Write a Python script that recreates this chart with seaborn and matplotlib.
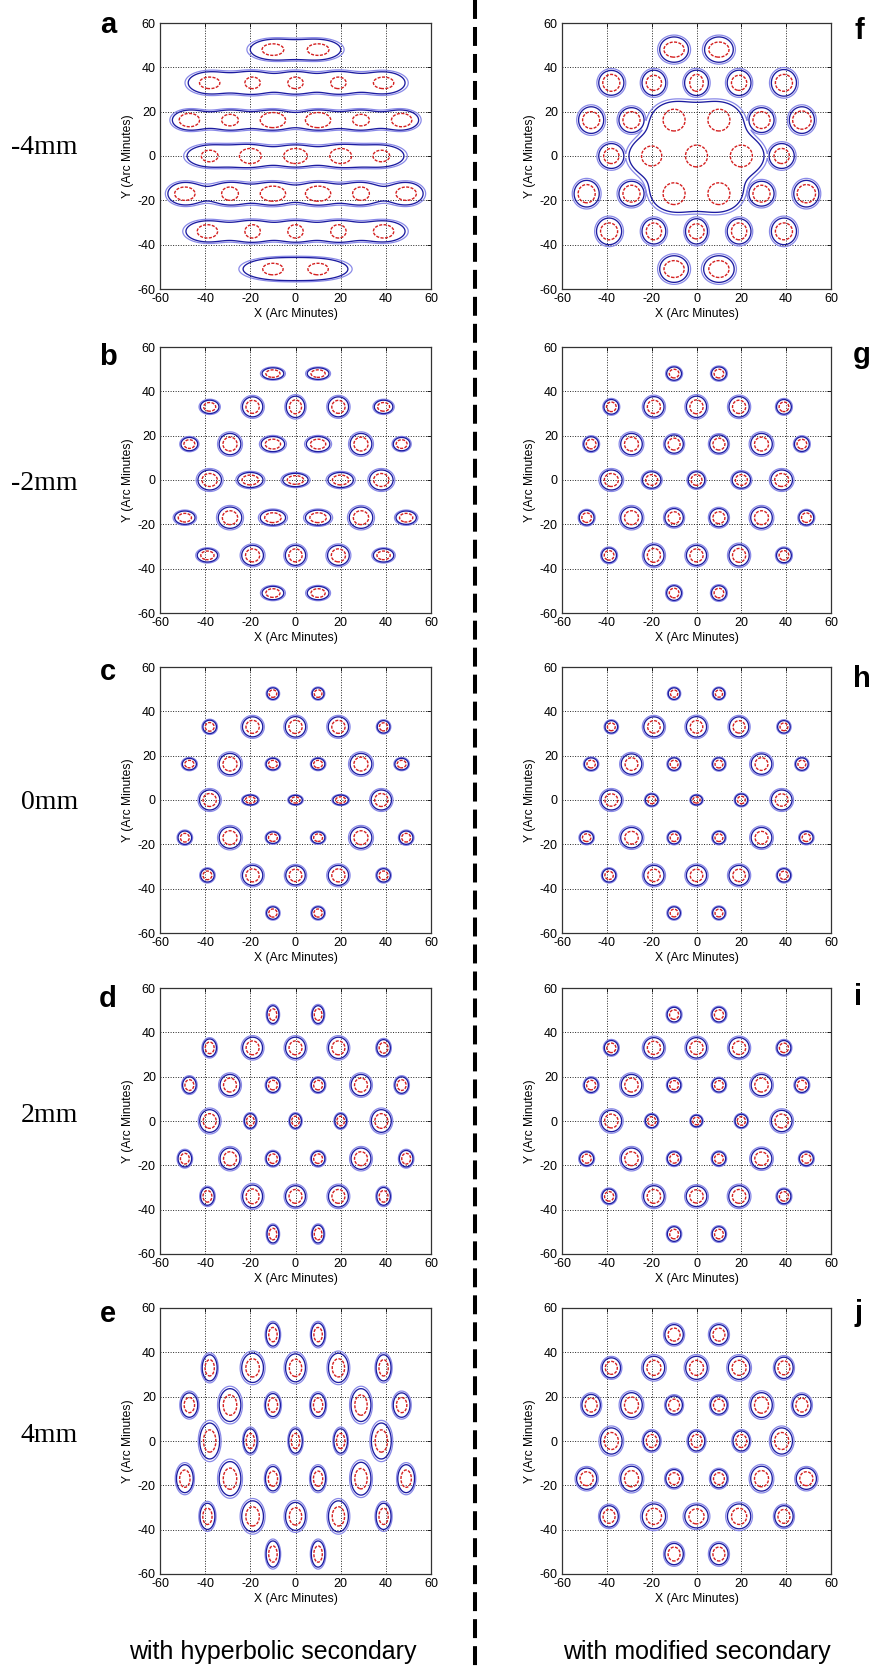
import numpy as np
import matplotlib
matplotlib.use("Agg")
import matplotlib.pyplot as plt
import seaborn as sns
from matplotlib.lines import Line2D

sns.set_theme(style="white")
plt.rcParams["font.family"] = ["Liberation Sans", "DejaVu Sans"]
plt.rcParams["axes.unicode_minus"] = False

# ---------------- spot centres (arc minutes), row by row ----------------
SPOT_X = [-10, 10,
          -38, -19, 0, 19, 39,
          -47, -29, -10, 10, 29, 47,
          -38, -20, 0, 20, 38,
          -49, -29, -10, 10, 29, 49,
          -39, -19, 0, 19, 39,
          -10, 10]
SPOT_Y = [48, 48,
          33, 33, 33, 33, 33,
          16.2, 16.2, 16.2, 16.2, 16.2, 16.2,
          0, 0, 0, 0, 0,
          -17, -17, -17, -17, -17, -17,
          -34, -34, -34, -34, -34,
          -51, -51]
SPOT_ROW = [0, 0, 1, 1, 1, 1, 1, 2, 2, 2, 2, 2, 2, 3, 3, 3, 3, 3,
            4, 4, 4, 4, 4, 4, 5, 5, 5, 5, 5, 6, 6]

TICKS = [-60, -40, -20, 0, 20, 40, 60]
ROW_LABELS = ["-4mm", "-2mm", "0mm", "2mm", "4mm"]
LEFT_LETTERS = ["a", "b", "c", "d", "e"]
RIGHT_LETTERS = ["f", "g", "h", "i", "j"]
COLUMN_TITLES = ["with hyperbolic secondary", "with modified secondary"]


def flat(rows):
    out = []
    for r in rows:
        out.extend(r if len(r) > 1 else [r[0], r[0]])
    return out


# ---------------- panel a (-4 mm, hyperbolic): blue bands per row, red spots ----------------
A_BX = flat([[10], [9.5, 8.5, 8.5, 8.5, 9.5], [7.5, 8.5, 8.5, 8.5, 8.5, 7.5],
             [10, 9, 9, 9, 10], [7.5, 8.5, 8.5, 8.5, 8.5, 7.5],
             [9.5, 8.5, 8.5, 8.5, 9.5], [13]])
A_BY = flat([[4.5], [4.9] * 5, [4.4] * 6, [4.8] * 5, [5.0] * 6, [4.7] * 5, [4.4]])
A_RX = flat([[4.8], [4.5, 3.4, 3.4, 3.4, 4.5], [4.5, 3.7, 5.6, 5.6, 3.7, 4.5],
             [3.7, 4.8, 5.2, 4.8, 3.7], [4.5, 3.7, 5.6, 5.6, 3.7, 4.5],
             [4.5, 3.4, 3.4, 3.4, 4.5], [4.5]])
A_RY = flat([[2.6], [2.6] * 5, [3.0, 2.6, 3.4, 3.4, 2.6, 3.0], [2.6, 3.4, 3.4, 3.4, 2.6],
             [3.0, 3.0, 3.4, 3.4, 3.0, 3.0], [3.0] * 5, [2.6]])
A_GROUP = SPOT_ROW  # each row of images merges into one band

# ---------------- panel b (-2 mm, hyperbolic) ----------------
B_BX = flat([[4.8], [4.1, 4.5, 4.1, 4.5, 4.1], [3.7, 4.8, 5.2, 5.2, 4.8, 3.7],
             [5.2, 5.6, 5.6, 5.6, 5.2], [4.5, 5.2, 5.6, 5.6, 5.2, 4.5],
             [4.5, 4.8, 4.5, 4.8, 4.5], [4.8]])
B_BY = flat([[2.6], [3.0, 4.5, 4.8, 4.5, 3.0], [3.0, 4.8, 3.4, 3.4, 4.8, 3.0],
             [4.5, 3.4, 3.0, 3.4, 4.5], [3.0, 4.8, 3.4, 3.4, 4.8, 3.0],
             [3.0, 4.5, 4.5, 4.5, 3.0], [3.0]])

# ---------------- panel c (0 mm, hyperbolic) ----------------
C_BX = flat([[2.6], [3.0, 4.5, 4.5, 4.5, 2.8], [3.1, 4.8, 3.0, 3.0, 4.8, 3.0],
             [4.5, 3.4, 3.0, 3.4, 4.5], [3.0, 4.8, 3.0, 3.0, 4.8, 3.0],
             [3.0, 4.5, 4.3, 4.5, 3.0], [2.8]])
C_BY = flat([[2.6], [3.0, 4.5, 4.6, 4.5, 2.8], [2.6, 4.8, 2.6, 2.6, 4.8, 2.6],
             [4.5, 2.2, 2.1, 2.2, 4.5], [3.0, 4.8, 2.6, 2.6, 4.8, 3.0],
             [3.0, 4.5, 4.3, 4.5, 3.0], [2.8]])

# ---------------- panel d (2 mm, hyperbolic) ----------------
D_BX = flat([[2.6], [3.0, 4.4, 4.4, 4.4, 3.0], [3.0, 4.4, 3.0, 3.0, 4.4, 3.0],
             [4.4, 2.6, 2.6, 2.6, 4.4], [3.0, 4.4, 3.0, 3.0, 4.4, 3.0],
             [3.0, 4.4, 4.4, 4.4, 3.0], [2.6]])
D_BY = flat([[4.0], [4.0, 4.8, 4.8, 4.8, 3.7], [3.7, 4.8, 3.3, 3.3, 4.8, 3.7],
             [5.1, 3.3, 3.3, 3.3, 5.1], [3.7, 4.8, 3.3, 3.3, 4.8, 3.7],
             [4.0, 5.1, 4.8, 4.8, 4.0], [4.0]])

# ---------------- panel e (4 mm, hyperbolic) ----------------
E_BX = flat([[3.0], [3.3, 4.8, 4.4, 4.4, 3.3], [3.7, 4.8, 3.3, 3.3, 4.4, 3.7],
             [4.4, 3.0, 3.0, 3.0, 4.4], [3.7, 4.8, 3.3, 3.3, 4.4, 3.7],
             [3.3, 4.8, 4.4, 4.4, 3.3], [3.0]])
E_BY = flat([[5.2], [5.9, 6.6, 6.3, 6.6, 5.9], [5.5, 7.4, 5.2, 5.2, 7.4, 5.5],
             [8.1, 5.5, 5.5, 5.5, 8.1], [6.3, 7.7, 5.5, 5.5, 7.4, 6.3],
             [5.9, 7.0, 6.3, 7.0, 5.9], [5.9]])

# ---------------- panel f (-4 mm, modified): merged centre, red spots ----------------
F_BX = flat([[6.4], [5.6, 5.3, 5.3, 5.3, 5.6], [5.6, 5.6, 10, 10, 5.6, 5.6],
             [5.6, 10, 10, 10, 5.6], [5.6, 5.6, 10, 10, 5.6, 5.6],
             [5.6, 5.3, 4.9, 5.3, 5.6], [6.4, 6.8]])
F_BY = flat([[5.7], [5.6, 5.7, 5.7, 5.7, 6.0], [6.0, 5.6, 8, 8, 5.6, 6.0],
             [5.6, 8, 8, 8, 5.6], [6.0, 5.6, 8, 8, 5.6, 6.0],
             [6.0, 5.7, 5.7, 5.7, 6.0], [6.0]])
F_RX = flat([[4.5], [3.8, 3.4, 3.0, 3.4, 3.8], [3.8, 3.8, 4.9, 4.9, 3.8, 4.1],
             [3.4, 4.5, 4.9, 4.9, 3.4], [3.8, 3.8, 4.9, 4.9, 3.8, 4.1],
             [3.8, 3.4, 3.4, 3.4, 3.8], [4.5]])
F_RY = flat([[3.4], [3.8, 3.4, 3.8, 3.4, 3.8], [3.8, 3.8, 4.9, 4.9, 3.8, 4.1],
             [3.4, 4.5, 4.9, 4.9, 3.4], [4.1, 3.8, 4.9, 4.9, 3.8, 4.1],
             [3.8, 3.8, 3.4, 3.8, 3.8], [3.8]])
# the seven central images share one blue outline (group 99)
F_GROUP = [0, 1, 2, 3, 4, 5, 6, 7, 8, 99, 99, 11, 12, 13, 99, 99, 99, 17,
           18, 19, 99, 99, 22, 23, 24, 25, 26, 27, 28, 29, 30]

# ---------------- panel g (-2 mm, modified) ----------------
G_BX = flat([[3.3], [3.3, 4.5, 4.5, 4.5, 3.3], [3.3, 4.8, 4.1, 4.1, 4.8, 3.3],
             [4.8, 4.1, 3.7, 4.1, 4.8], [3.3, 4.8, 4.1, 4.1, 4.8, 3.3],
             [3.3, 4.5, 4.5, 4.5, 3.3], [3.3]])
G_BY = flat([[3.0], [3.3, 4.6, 4.8, 4.6, 3.3], [3.3, 4.8, 4.1, 4.1, 4.8, 3.3],
             [4.5, 3.7, 3.7, 3.7, 4.5], [3.3, 4.8, 4.1, 4.1, 4.8, 3.3],
             [3.3, 4.8, 4.5, 4.8, 3.3], [3.3]])

# ---------------- panel h (0 mm, modified) ----------------
H_BX = flat([[2.6], [2.8, 4.5, 4.5, 4.3, 2.8], [3.0, 4.6, 2.8, 2.8, 4.6, 2.8],
             [4.6, 2.8, 2.6, 2.8, 4.6], [3.0, 4.8, 2.8, 2.8, 4.6, 3.0],
             [3.0, 4.5, 4.5, 4.5, 3.0], [2.8]])
H_BY = flat([[2.6], [2.8, 4.5, 4.6, 4.5, 2.8], [2.8, 4.6, 2.8, 2.8, 4.6, 2.8],
             [4.5, 2.7, 2.2, 2.7, 4.5], [2.8, 4.6, 2.8, 2.8, 4.6, 2.8],
             [3.0, 4.5, 4.5, 4.5, 3.0], [2.8]])

# ---------------- panel i (2 mm, modified) ----------------
I_BX = flat([[3.1], [3.1, 4.5, 4.5, 4.5, 3.1], [3.1, 4.6, 3.0, 3.0, 4.6, 3.1],
             [4.6, 2.8, 2.6, 2.8, 4.6], [3.1, 4.6, 3.0, 3.0, 4.6, 3.1],
             [3.1, 4.6, 4.6, 4.6, 3.1], [3.0]])
I_BY = flat([[3.3], [3.3, 4.6, 4.6, 4.6, 3.3], [3.3, 4.8, 3.1, 3.1, 4.8, 3.3],
             [4.8, 3.0, 2.6, 3.0, 4.8], [3.1, 4.8, 3.1, 3.1, 4.6, 3.1],
             [3.3, 4.8, 4.6, 4.8, 3.3], [3.3]])

# ---------------- panel j (4 mm, modified) ----------------
J_BX = flat([[4.1], [4.1, 4.8, 4.8, 4.8, 4.1], [4.1, 4.8, 3.7, 3.7, 4.8, 4.1],
             [4.8, 3.7, 3.7, 3.7, 4.8], [4.5, 4.8, 3.7, 3.7, 4.8, 4.5],
             [4.1, 5.2, 5.2, 5.2, 4.1], [4.1]])
J_BY = flat([[4.5], [4.5, 5.2, 5.2, 5.2, 4.8], [4.8, 5.6, 4.1, 4.1, 5.6, 4.8],
             [5.9, 4.5, 4.5, 4.5, 5.9], [4.8, 5.6, 4.1, 4.1, 5.6, 4.8],
             [4.8, 5.6, 5.2, 5.6, 4.8], [4.8]])

# red (inner) contour size relative to blue, per panel
RED_RATIO = {"b": 0.65, "c": 0.65, "d": 0.65, "e": 0.62,
             "g": 0.65, "h": 0.62, "i": 0.65, "j": 0.65}

SOLO = list(range(len(SPOT_X)))
PANELS = {
    "a": (A_BX, A_BY, A_RX, A_RY, A_GROUP),
    "b": (B_BX, B_BY, None, None, SOLO),
    "c": (C_BX, C_BY, None, None, SOLO),
    "d": (D_BX, D_BY, None, None, SOLO),
    "e": (E_BX, E_BY, None, None, SOLO),
    "f": (F_BX, F_BY, F_RX, F_RY, F_GROUP),
    "g": (G_BX, G_BY, None, None, SOLO),
    "h": (H_BX, H_BY, None, None, SOLO),
    "i": (I_BX, I_BY, None, None, SOLO),
    "j": (J_BX, J_BY, None, None, SOLO),
}

# ---------------- figure ----------------
W, H = 874, 1673
fig = plt.figure(figsize=(W / 100, H / 100), dpi=100)
fig.patch.set_facecolor("white")

grid = np.linspace(-60, 60, 721)
K = np.sqrt(2 * np.log(2))


def spot_field(sx_list, sy_list, groups):
    """Images in one group add up; separate groups are combined by maximum."""
    sums = {}
    for x0, y0, a, b, g in zip(SPOT_X, SPOT_Y, sx_list, sy_list, groups):
        ex = np.exp(-0.5 * ((grid - x0) / (a / K)) ** 2)
        ey = np.exp(-0.5 * ((grid - y0) / (b / K)) ** 2)
        term = np.outer(ey, ex)
        sums[g] = sums[g] + term if g in sums else term
    F = np.zeros((grid.size, grid.size))
    for v in sums.values():
        np.maximum(F, v, out=F)
    return F


ROW_TOPS = [23, 347, 667, 988, 1308]
AX_H = 266
COLS = [(160, 271, LEFT_LETTERS), (562, 269, RIGHT_LETTERS)]

for ci, (x0, w, letters) in enumerate(COLS):
    for ri, top in enumerate(ROW_TOPS):
        key = letters[ri]
        bx, by, rx, ry, grp = PANELS[key]
        if rx is None:
            rx = [v * RED_RATIO[key] for v in bx]
            ry = [v * RED_RATIO[key] for v in by]
        ax = fig.add_axes([x0 / W, 1 - (top + AX_H) / H, w / W, AX_H / H])
        blue = spot_field(bx, by, grp)
        red = spot_field(rx, ry, SOLO)
        ax.contour(grid, grid, blue, levels=[0.40, 0.5],
                   colors=["#8a8ae8", "#1c1ca0"], linewidths=[0.9, 0.95])
        ax.contour(grid, grid, red, levels=[0.5], colors=["#d42020"],
                   linewidths=[1.0], linestyles=[(0, (2.2, 1.0))])
        ax.set_xlim(-60, 60)
        ax.set_ylim(-60, 60)
        ax.set_xticks(TICKS)
        ax.set_yticks(TICKS)
        ax.grid(True, color="#222222", linestyle=(0, (1, 1.6)), linewidth=0.7)
        ax.set_axisbelow(True)
        for s in ax.spines.values():
            s.set_color("#333333")
            s.set_linewidth(0.9)
        ax.tick_params(direction="in", length=3, width=0.6, labelsize=9,
                       colors="black", top=True, right=True, pad=3)
        ax.set_xlabel("X (Arc Minutes)", fontsize=8.7, labelpad=2, color="black")
        ax.set_ylabel("Y (Arc Minutes)", fontsize=8.7, labelpad=3, color="black")

# panel letters (baseline positions in pixels)
LEFT_LETTER_POS = [(108, 33), (108, 365), (108, 680), (108, 1007), (108, 1322)]
RIGHT_LETTER_POS = [(859, 39), (862, 363), (862, 687), (858, 1005), (858, 1321)]
for lab, (px, py) in zip(LEFT_LETTERS + RIGHT_LETTERS, LEFT_LETTER_POS + RIGHT_LETTER_POS):
    fig.text(px / W, 1 - py / H, lab, fontsize=21, fontweight="bold",
             ha="center", va="baseline", color="black")

# defocus labels
ROW_LABEL_Y = [148, 483, 802, 1116, 1435]
for lab, py in zip(ROW_LABELS, ROW_LABEL_Y):
    fig.text(78 / W, 1 - py / H, lab, family=["Liberation Serif", "DejaVu Serif"],
             fontsize=20, ha="right", va="center", color="black")

# column titles
for lab, px in zip(COLUMN_TITLES, [273, 697]):
    fig.text(px / W, 1 - 1652 / H, lab, fontsize=18, ha="center", va="center",
             color="black")

# dashed divider
fig.add_artist(Line2D([475 / W, 475 / W], [1, 0], transform=fig.transFigure,
                      color="black", linewidth=2.9, linestyle=(0, (4.7, 2.0))))

fig.savefig("out.png", dpi=100, facecolor="white")
